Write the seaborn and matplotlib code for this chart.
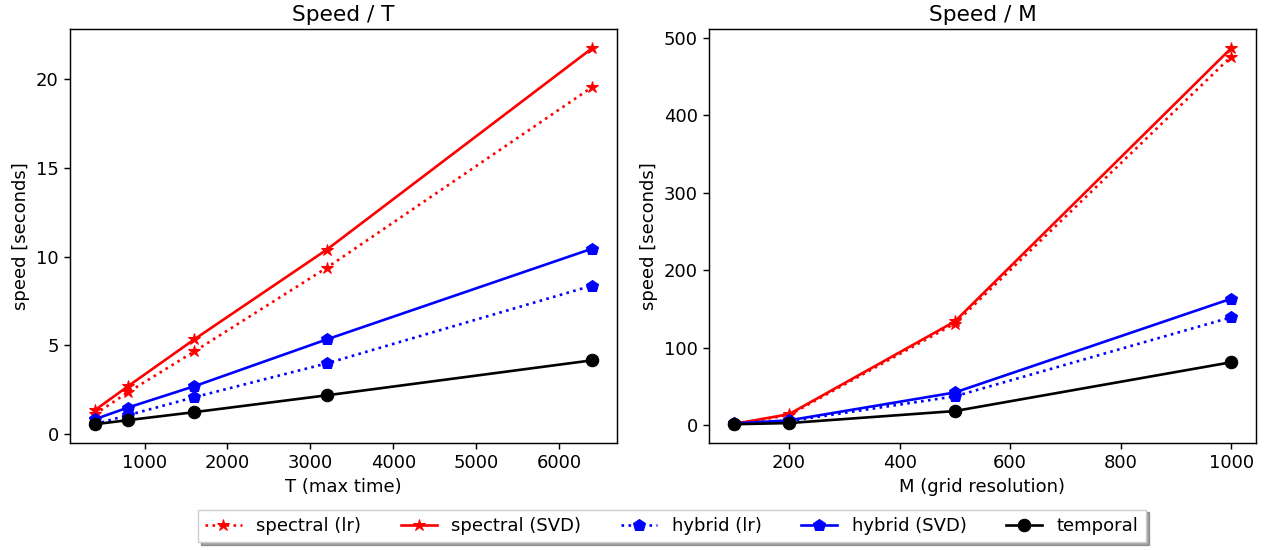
import numpy as np
import pandas as pd
import matplotlib
matplotlib.use("Agg")
import matplotlib.pyplot as plt
import seaborn as sns

# speed vs max time T
t_values = [400, 800, 1600, 3200, 6400]
t_spectral_lr = [1.12, 2.36, 4.66, 9.38, 19.55]
t_spectral_svd = [1.35, 2.70, 5.34, 10.40, 21.74]
t_hybrid_lr = [0.56, 1.07, 2.08, 3.99, 8.37]
t_hybrid_svd = [0.84, 1.50, 2.70, 5.34, 10.45]
t_temporal = [0.56, 0.79, 1.24, 2.19, 4.16]

# speed vs grid resolution M
m_values = [100, 200, 500, 1000]
m_spectral_lr = [1.0, 12.8, 131.0, 475.6]
m_spectral_svd = [1.3, 14.0, 133.7, 486.5]
m_hybrid_lr = [1.0, 5.0, 37.0, 139.0]
m_hybrid_svd = [2.0, 6.0, 42.0, 163.0]
m_temporal = [1.0, 2.5, 18.0, 81.0]

series = [
    ("spectral (lr)", "red", ":", "*"),
    ("spectral (SVD)", "red", "-", "*"),
    ("hybrid (lr)", "blue", ":", "p"),
    ("hybrid (SVD)", "blue", "-", "p"),
    ("temporal", "black", "-", "o"),
]

t_data = [t_spectral_lr, t_spectral_svd, t_hybrid_lr, t_hybrid_svd, t_temporal]
m_data = [m_spectral_lr, m_spectral_svd, m_hybrid_lr, m_hybrid_svd, m_temporal]

# original looks like matplotlib defaults rendered at a higher dpi
s = 1.3
plt.rcParams.update({
    "font.size": 10 * s,
    "axes.titlesize": 12 * s,
    "axes.labelsize": 10 * s,
    "xtick.labelsize": 10 * s,
    "ytick.labelsize": 10 * s,
    "legend.fontsize": 10 * s,
    "lines.linewidth": 1.9,
    "lines.markersize": 9,
    "axes.linewidth": 0.8 * s,
    "xtick.major.size": 3.5 * s,
    "ytick.major.size": 3.5 * s,
    "xtick.major.width": 0.8 * s,
    "ytick.major.width": 0.8 * s,
})

fig = plt.figure(figsize=(12.68, 5.5), dpi=100)
ax1 = fig.add_axes([0.0552, 0.1945, 0.4314, 0.752])
ax2 = fig.add_axes([0.5591, 0.1945, 0.4314, 0.752])


def draw_panel(ax, xs, data, title, xlabel):
    for (name, color, ls, marker), ys in zip(series, data):
        df = pd.DataFrame({"x": xs, "y": ys})
        sns.lineplot(data=df, x="x", y="y", ax=ax, color=color, linestyle=ls,
                     marker=marker, markeredgecolor=color,
                     label=name, legend=False)
    ax.set_title(title)
    ax.set_xlabel(xlabel)
    ax.set_ylabel("speed [seconds]")


draw_panel(ax1, t_values, t_data, "Speed / T", "T (max time)")
draw_panel(ax2, m_values, m_data, "Speed / M", "M (grid resolution)")
ax1.set_xticks([1000, 2000, 3000, 4000, 5000, 6000])
ax1.set_yticks([0, 5, 10, 15, 20])
ax2.set_xticks([200, 400, 600, 800, 1000])

handles, labels = ax1.get_legend_handles_labels()
fig.legend(handles, labels, loc="lower center", ncol=5, bbox_to_anchor=(0.53, -0.002),
           shadow=True, fancybox=False, columnspacing=2.2)

fig.savefig("out.png", dpi=100)
